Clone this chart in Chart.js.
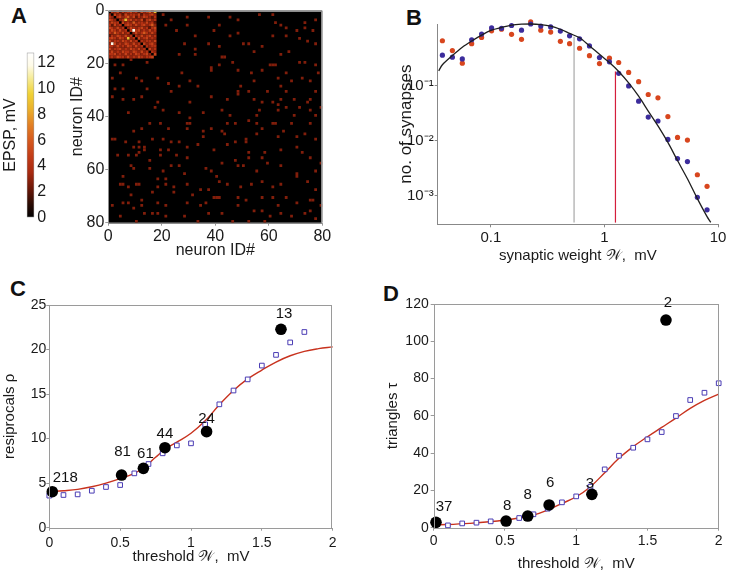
<!DOCTYPE html>
<html>
<head>
<meta charset="utf-8">
<script src="https://cdn.jsdelivr.net/npm/chart.js@4.4.1/dist/chart.umd.min.js"></script>
<style>
  body { margin: 0; background: #fff; width: 732px; height: 575px; position: relative; overflow: hidden;
         font-family: "Liberation Sans", Arial, Helvetica, sans-serif; }
  canvas { position: absolute; }
  .letter { position: absolute; font-weight: bold; font-size: 22px; line-height: 22px; color: #111; }
</style>
</head>
<body>
<div class="letter" style="left:11px;top:4.5px">A</div>
<div class="letter" style="left:406px;top:7px">B</div>
<div class="letter" style="left:10px;top:277.5px">C</div>
<div class="letter" style="left:383px;top:282.5px">D</div>

<canvas id="cbar" width="60" height="190" style="left:0;top:40px"></canvas>
<canvas id="matrix" width="275" height="265" style="left:60px;top:0"></canvas>
<canvas id="weights" width="345" height="265" style="left:385px;top:5px"></canvas>
<canvas id="recip" width="350" height="285" style="left:0;top:290px"></canvas>
<canvas id="triang" width="360" height="285" style="left:370px;top:290px"></canvas>

<script>
// ---------- A: EPSP matrix (mV), 80 x 80 neurons ----------
// clustered block, neurons 0..17 (row = presynaptic, col = postsynaptic)
const blockEpsp = [
  [0,4,3,5,2,4,3,4,5,3,4,2,5,3,4,6,3,9],
  [3,0,5,3,4,2,5,3,4,4,3,5,2,4,3,4,5,3],
  [4,3,0,4,5,3,4,6,3,5,2,4,3,5,4,3,2,4],
  [5,4,3,0,3,4,9,4,5,3,4,3,5,2,4,5,3,4],
  [3,5,4,4,0,5,3,4,3,6,3,4,4,3,5,3,4,2],
  [4,2,5,3,4,0,4,5,4,3,5,3,4,5,3,4,6,3],
  [5,4,3,5,3,4,0,3,5,4,3,4,5,3,4,2,4,5],
  [3,5,4,3,5,3,4,0,4,12,4,5,3,4,3,5,3,4],
  [4,3,6,4,3,5,3,4,0,3,5,3,4,6,4,3,5,3],
  [2,4,3,5,4,3,5,3,4,0,4,3,5,3,4,5,3,4],
  [4,5,4,3,5,4,3,9,3,4,0,5,3,4,5,3,4,3],
  [5,3,4,4,3,5,4,3,5,3,4,0,4,3,4,4,3,5],
  [3,12,5,3,4,3,5,4,3,5,3,4,0,5,3,4,5,3],
  [4,4,3,5,3,4,3,5,4,3,5,3,4,0,4,3,4,4],
  [5,3,4,4,5,3,4,3,5,4,3,5,3,4,0,5,3,4],
  [3,5,3,4,3,5,4,4,3,5,4,3,5,3,4,0,4,3],
  [4,4,5,3,4,3,5,3,4,3,5,4,3,4,5,3,0,5],
  [3,4,3,5,4,4,3,5,3,4,3,5,4,3,4,4,5,0]
];
// sparse connections elsewhere: [row, col]
const sparseLinks = [
  [1,20],[3,23],[2,29],[5,29],[9,32],[2,37],[7,25],[12,28],[16,26],[14,32],[16,32],[12,37],[21,38],[22,38],[7,39],[5,21],
  [20,2],[20,5],[18,8],[19,14],[25,1],[23,4],[25,10],[26,12],[25,18],[27,22],[23,27],[26,30],[30,23],[28,26],[29,2],[29,5],
  [29,14],[32,1],[32,12],[33,9],[34,18],[37,20],[36,17],[38,26],[34,30],[28,33],[32,38],[38,35],[38,7],[33,5],
  [2,45],[3,48],[8,48],[9,45],[1,56],[1,61],[4,62],[5,64],[6,66],[7,70],[4,73],[6,73],[3,77],[7,76],[9,61],[9,66],
  [10,71],[11,74],[12,77],[13,41],[17,42],[17,43],[12,50],[12,52],[15,54],[13,57],[20,60],[20,61],[20,62],[16,64],[15,67],
  [19,71],[19,73],[20,77],[23,78],[20,41],[19,46],[22,48],[23,53],[22,57],[25,63],[23,66],[26,68],[25,72],[26,75],[26,54],
  [28,49],[30,48],[33,44],[31,48],[30,52],[30,59],[28,64],[30,66],[30,77],[33,54],[34,57],[34,61],[35,63],[33,64],[33,69],
  [34,74],[33,75],[37,56],[37,63],[36,66],[36,71],[37,75],[36,79],[37,42],[39,45],[39,55],[39,69],[39,77],[5,41],
  [48,1],[48,2],[45,9],[44,12],[42,15],[42,19],[42,29],[42,30],[40,30],[44,29],[45,35],[44,38],[44,22],[48,16],[48,20],
  [49,23],[49,26],[49,6],[49,11],[51,9],[51,11],[53,11],[51,13],[52,13],[52,19],[52,22],[51,29],[50,33],[47,35],[52,39],
  [54,3],[54,7],[54,10],[56,15],[54,19],[54,25],[55,29],[58,23],[58,26],[58,8],[59,9],[59,15],[60,20],[61,28],[59,36],
  [60,38],[62,5],[63,18],[63,21],[65,4],[65,5],[66,7],[65,10],[65,11],[66,18],[65,21],[66,24],[65,29],[67,34],[67,37],
  [69,8],[68,16],[68,24],[69,31],[70,39],[73,1],[72,5],[72,7],[71,12],[73,12],[72,18],[73,21],[72,29],[73,34],[72,36],
  [74,9],[76,13],[76,16],[76,18],[77,4],[79,10],[77,21],[79,33],[77,28],[76,37],
  [45,42],[46,43],[42,44],[42,47],[41,52],[42,55],[42,61],[42,62],[45,65],[42,68],[42,75],[48,77],[46,73],[47,70],
  [48,51],[49,51],[46,55],[44,57],[47,63],[49,47],[50,44],[53,52],[55,52],[55,57],[53,58],[52,64],[51,70],[53,72],
  [55,75],[57,42],[56,47],[58,50],[58,48],[60,55],[57,59],[58,64],[61,70],[62,70],[60,77],[57,79],[62,40],[64,41],
  [65,44],[66,49],[65,53],[64,57],[66,61],[65,64],[64,74],[67,77],[70,40],[70,41],[70,48],[71,51],[70,57],[70,61],
  [70,66],[72,70],[71,75],[71,76],[76,42],[73,48],[75,54],[75,57],[73,63],[76,64],[77,68],[76,73],[75,75],[79,46],
  [79,52],[77,60],[78,77],[73,79],[79,58]
];
const sparseEpsp = 2.7;
const matrixTicks = [0, 20, 40, 60, 80];
const cbarTicks = [0, 2, 4, 6, 8, 10, 12];
const cbarMax = 12.8;

// ---------- B: synaptic weight distribution ----------
const weightBins = [0.0374, 0.0458, 0.056, 0.0677, 0.0828, 0.1014, 0.124, 0.152, 0.186, 0.224, 0.275, 0.336, 0.409, 0.493,
                    0.604, 0.738, 0.904, 1.106, 1.335, 1.634, 2.0, 2.43, 2.96, 3.62, 4.40, 5.38, 6.58, 8.01];
const countsModel = [0.357, 0.329, 0.306, 0.683, 0.865, 1.12, 1.10, 1.24, 1.02, 1.32, 1.21, 1.17, 0.98, 0.805,
                     0.71, 0.526, 0.324, 0.271, 0.167, 0.0988, 0.0522, 0.0268, 0.0227, 0.0105, 0.0047, 0.00415, 0.00093, 0.00055];
const countsData = [0.655, 0.433, 0.256, 0.578, 0.753, 0.99, 1.06, 0.855, 0.694, 1.44, 1.02, 0.94, 0.638, 0.578,
                    0.478, 0.351, 0.252, 0.315, 0.263, 0.174, 0.118, 0.0689, 0.06, 0.0273, 0.0114, 0.0102, 0.00239, 0.00147];
const fitX = [0.0347, 0.0374, 0.0458, 0.056, 0.0677, 0.0828, 0.1014, 0.124, 0.152, 0.186, 0.224, 0.275, 0.336, 0.409, 0.493,
              0.604, 0.738, 0.904, 1.106, 1.335, 1.634, 2.0, 2.43, 2.96, 3.62, 4.40, 5.38, 6.58, 8.01, 8.63];
const fitY = [0.186, 0.239, 0.352, 0.498, 0.647, 0.83, 1.02, 1.14, 1.26, 1.31, 1.32, 1.29, 1.21, 1.06, 0.89,
              0.74, 0.526, 0.372, 0.263, 0.181, 0.112, 0.0641, 0.0344, 0.0185, 0.00927, 0.00433, 0.00202, 0.00088, 0.000413, 0.000324];
const thresholdLow = 0.54, thresholdLowTop = 0.77;
const thresholdHigh = 1.25, thresholdHighTop = 0.181;
const weightXMin = 0.034, weightXMax = 10, countYMin = 3.22e-4, countYMax = 1.32;
const weightXTicks = [0.1, 1, 10];
const weightXLabels = ['0.1', '1', '10'];
const countYTicks = [0.001, 0.01, 0.1];
const countYLabels = ['10\u207B\u00B3', '10\u207B\u00B2', '10\u207B\u00B9'];

// ---------- C: reciprocal connections vs threshold ----------
const thrX = [0, 0.5, 1, 1.5, 2];
const thrLabels = ['0', '0.5', '1', '1.5', '2'];
const recipExpX = [0.021, 0.51, 0.664, 0.816, 1.11, 1.635];
const recipExpY = [4.04, 5.91, 6.66, 8.98, 10.78, 22.27];
const recipCounts = ['218', '81', '61', '44', '24', '13'];
const recipSimX = [0, 0.1, 0.2, 0.3, 0.4, 0.5, 0.6, 0.7, 0.8, 0.9, 1.0, 1.1, 1.2, 1.3, 1.4, 1.5, 1.6, 1.7, 1.8];
const recipSimY = [3.6, 3.67, 3.74, 4.15, 4.57, 4.79, 6.1, 7.15, 8.35, 9.24, 9.47, 11.6, 13.85, 15.4, 16.65, 18.2, 19.4, 20.8, 21.97];
const recipFitX = [0, 0.1, 0.2, 0.3, 0.4, 0.5, 0.6, 0.664, 0.75, 0.816, 0.9, 1.0, 1.1, 1.2, 1.3, 1.4, 1.5, 1.6, 1.7, 1.8, 1.9, 2.0];
const recipFitY = [4.05, 4.15, 4.3, 4.6, 5.0, 5.5, 6.1, 6.7, 7.9, 8.8, 9.6, 10.6, 12.0, 13.8, 15.4, 16.7, 17.7, 18.6, 19.3, 19.8, 20.1, 20.3];
const recipYTicks = [0, 5, 10, 15, 20, 25];

// ---------- D: triangles vs threshold ----------
const triExpX = [0.016, 0.508, 0.66, 0.81, 1.11, 1.63];
const triExpY = [2.86, 3.58, 6.26, 12.2, 17.9, 111.4];
const triCounts = ['37', '8', '8', '6', '3', '2'];
const triSimX = [0.1, 0.2, 0.3, 0.4, 0.5, 0.6, 0.7, 0.8, 0.9, 1.0, 1.1, 1.2, 1.3, 1.4, 1.5, 1.6, 1.7, 1.8, 1.9, 2.0];
const triSimY = [1.25, 2.3, 2.7, 3.4, 4.3, 5.2, 7.2, 10.2, 13.6, 16.8, 22, 31.3, 38.6, 42.9, 47.4, 51.3, 59.9, 68.5, 72.4, 77.5];
const triFitX = [0, 0.25, 0.5, 0.7, 0.8, 0.9, 1.0, 1.1, 1.2, 1.3, 1.4, 1.5, 1.6, 1.7, 1.8, 1.9, 2.0];
const triFitY = [1.4, 2.3, 4.1, 6.8, 9.5, 13, 16.6, 22, 29.5, 37.2, 43.5, 48.8, 53.8, 58.8, 64.0, 68.3, 71.7];
const triYTicks = [0, 20, 40, 60, 80, 100, 120];

// ---------- styling ----------
const FONT = '"Liberation Sans", Arial, Helvetica, sans-serif';
Chart.defaults.font.family = FONT;
Chart.defaults.color = '#1a1a1a';
Chart.defaults.animation = false;
Chart.defaults.events = [];
Chart.defaults.plugins.legend.display = false;
Chart.defaults.plugins.tooltip.enabled = false;

// "hot"-like colour map used by the EPSP matrix and its colour bar
const cmapStops = [[0, '#000000'], [1.1, '#2e0c04'], [2.3, '#6e1808'], [3.5, '#a82a10'], [4.75, '#c23c18'],
                   [6, '#d65a1e'], [7.2, '#e28024'], [8.4, '#eab02c'], [9.6, '#f0d236'], [10.85, '#f6ec9a'],
                   [11.8, '#fffbe8'], [12.8, '#ffffff']];

function hexRgb(h) { return [1, 3, 5].map(i => parseInt(h.substr(i, 2), 16)); }

function cmap(v) {
  for (let i = 1; i < cmapStops.length; i++) {
    const [v1, c1] = cmapStops[i];
    if (v <= v1) {
      const [v0, c0] = cmapStops[i - 1];
      const t = (v - v0) / (v1 - v0);
      const a = hexRgb(c0), b = hexRgb(c1);
      return 'rgb(' + a.map((x, k) => Math.round(x + (b[k] - x) * t)).join(',') + ')';
    }
  }
  return '#ffffff';
}

const fixW = w => s => { s.width = w; };
const fixH = h => s => { s.height = h; };
const fixedTicks = vals => s => { s.ticks = vals.map(v => ({ value: v })); };

// black background for the matrix + thin frame round a plot
const plotArea = {
  id: 'plotArea',
  beforeDatasetsDraw(chart, args, opts) {
    if (!opts.fill) return;
    const { ctx, chartArea: a } = chart;
    ctx.save();
    ctx.fillStyle = opts.fill;
    ctx.fillRect(a.left, a.top, a.width, a.height);
    ctx.restore();
  },
  afterDatasetsDraw(chart, args, opts) {
    if (!opts.frame) return;
    const { ctx, chartArea: a } = chart;
    ctx.save();
    ctx.strokeStyle = opts.frame;
    ctx.lineWidth = 1;
    ctx.strokeRect(Math.round(a.left) + 0.5, Math.round(a.top) + 0.5, Math.round(a.width) - 1, Math.round(a.height));
    ctx.restore();
  }
};

// counts written above the experimental points (dataset 0)
const pointTags = {
  id: 'pointTags',
  afterDatasetsDraw(chart, args, opts) {
    if (!opts.labels) return;
    const { ctx } = chart;
    const meta = chart.getDatasetMeta(0);
    ctx.save();
    ctx.font = '15px ' + FONT;
    ctx.fillStyle = '#111';
    ctx.textAlign = 'center';
    ctx.textBaseline = 'middle';
    meta.data.forEach((pt, i) => {
      const [dx, dy] = opts.nudge[i];
      ctx.fillText(opts.labels[i], pt.x + dx, pt.y + dy);
    });
    ctx.restore();
  }
};

Chart.register(plotArea, pointTags);

const axisGrey = '#9a9a9a';
const tickGrid = { display: true, drawOnChartArea: false, tickLength: 3, color: axisGrey };

// ---------- colour bar ----------
function cbarGradient(chart) {
  const ys = chart.scales.y;
  if (!ys || !chart.chartArea) return '#000';
  const y0 = ys.getPixelForValue(0), y1 = ys.getPixelForValue(cbarMax);
  if (!isFinite(y0) || !isFinite(y1) || y0 === y1) return '#000';
  const g = chart.ctx.createLinearGradient(0, y0, 0, y1);
  cmapStops.forEach(([v, c]) => g.addColorStop(v / cbarMax, c));
  return g;
}

new Chart(document.getElementById('cbar'), {
  type: 'bar',
  data: {
    labels: [''],
    datasets: [{
      data: [[0, cbarMax]],
      backgroundColor: ctx => cbarGradient(ctx.chart),
      borderColor: axisGrey, borderWidth: 1, borderSkipped: false,
      barPercentage: 1, categoryPercentage: 1
    }]
  },
  options: {
    responsive: false,
    layout: { padding: { top: 6.7, bottom: 8.3, left: 0, right: 0 } },
    scales: {
      x: { display: false },
      y: {
        position: 'right', min: 0, max: cbarMax, afterFit: fixW(25.7), afterBuildTicks: fixedTicks(cbarTicks),
        ticks: { padding: 3, font: { size: 16 } }, grid: { display: false, drawTicks: false }, border: { display: false }
      },
      y2: {
        position: 'left', min: 0, max: cbarMax, afterFit: fixW(26.7),
        ticks: { display: false }, grid: { display: false, drawTicks: false }, border: { display: false },
        title: { display: true, text: 'EPSP, mV', font: { size: 16 }, padding: { top: 1.4, bottom: 0 } }
      }
    }
  }
});

// ---------- A: matrix ----------
const matrixCells = [];
blockEpsp.forEach((row, r) => row.forEach((v, c) => {
  if (v > 0) matrixCells.push({ x: c + 0.5, y: r + 0.5, v });
}));
sparseLinks.forEach(([r, c]) => matrixCells.push({ x: c + 0.5, y: r + 0.5, v: sparseEpsp }));

function cellRadius(chart) {
  const xs = chart.scales.x;
  const d = xs ? Math.abs(xs.getPixelForValue(1) - xs.getPixelForValue(0)) : NaN;
  return isFinite(d) && d > 0 ? d / Math.SQRT2 * 1.04 : 1.9;
}

new Chart(document.getElementById('matrix'), {
  type: 'scatter',
  data: {
    datasets: [{
      data: matrixCells,
      pointStyle: 'rect',
      pointRadius: ctx => cellRadius(ctx.chart),
      backgroundColor: ctx => (ctx.raw ? cmap(ctx.raw.v) : '#000'),
      borderWidth: 0
    }]
  },
  options: {
    responsive: false,
    layout: { padding: { top: 7.3, right: 12.7, bottom: 0, left: 0 } },
    plugins: { plotArea: { fill: '#000', frame: '#8c8c8c' } },
    scales: {
      x: {
        min: 0, max: 80, afterFit: fixH(42.3), afterBuildTicks: fixedTicks(matrixTicks),
        ticks: { padding: 1, font: { size: 16 } }, grid: tickGrid, border: { display: false },
        title: { display: true, text: 'neuron ID#', font: { size: 16 }, padding: { top: 0, bottom: 4.4 } }
      },
      y: {
        min: 0, max: 80, reverse: true, afterFit: fixW(48.3), afterBuildTicks: fixedTicks(matrixTicks),
        ticks: { padding: 1, font: { size: 16 } }, grid: tickGrid, border: { display: false },
        title: { display: true, text: 'neuron ID#', font: { size: 16 }, padding: { top: 8.4, bottom: 0 } }
      }
    }
  }
});

// ---------- B: weight distribution ----------
const toXY = (xs, ys) => xs.map((x, i) => ({ x, y: ys[i] }));

new Chart(document.getElementById('weights'), {
  type: 'scatter',
  data: {
    datasets: [
      { data: toXY(fitX, fitY), showLine: true, borderColor: '#1e1e1e', borderWidth: 1.3, pointRadius: 0, tension: 0.3 },
      { data: [{ x: thresholdLow, y: countYMin }, { x: thresholdLow, y: thresholdLowTop }], showLine: true,
        borderColor: '#a8a8a8', borderWidth: 1.2, pointRadius: 0 },
      { data: [{ x: thresholdHigh, y: countYMin }, { x: thresholdHigh, y: thresholdHighTop }], showLine: true,
        borderColor: '#d41e3c', borderWidth: 1.2, pointRadius: 0 },
      { data: toXY(weightBins, countsModel), pointRadius: 2.6, backgroundColor: '#3c2c9c', borderWidth: 0 },
      { data: toXY(weightBins, countsData), pointRadius: 2.6, backgroundColor: '#d8461e', borderWidth: 0 }
    ]
  },
  options: {
    responsive: false,
    clip: false,
    layout: { padding: { top: 19, right: 12, bottom: 0, left: 0 } },
    scales: {
      x: {
        type: 'logarithmic', min: weightXMin, max: weightXMax, afterFit: fixH(45.7),
        afterBuildTicks: fixedTicks(weightXTicks),
        ticks: { padding: 2, font: { size: 15 }, callback: (v, i) => weightXLabels[i] },
        grid: { ...tickGrid, color: '#888' }, border: { color: '#888' },
        title: { display: true, text: 'synaptic weight \uD835\uDCB2,  mV', font: { size: 15 }, padding: { top: 0, bottom: 5 } }
      },
      y: {
        type: 'logarithmic', min: countYMin, max: countYMax, afterFit: fixW(52.7),
        afterBuildTicks: fixedTicks(countYTicks),
        ticks: { padding: 1, font: { size: 15 }, callback: (v, i) => countYLabels[i] },
        grid: { ...tickGrid, color: '#888' }, border: { color: '#888' },
        title: { display: true, text: 'no. of synapses', font: { size: 17 }, padding: { top: 10.8, bottom: 0 } }
      }
    }
  }
});

// ---------- C & D: motif counts vs threshold ----------
function motifChart(id, cfg) {
  return new Chart(document.getElementById(id), {
    type: 'scatter',
    data: {
      datasets: [
        { data: toXY(cfg.expX, cfg.expY), pointRadius: 5.8, backgroundColor: '#000', borderWidth: 0 },
        { data: toXY(cfg.simX, cfg.simY), pointStyle: 'rect', pointRadius: 3.3, backgroundColor: '#fff',
          borderColor: '#4a3cb4', borderWidth: 1 },
        { data: toXY(cfg.fitX, cfg.fitY), showLine: true, borderColor: '#c8321e', borderWidth: 1.4,
          pointRadius: 0, tension: 0.4 }
      ]
    },
    options: {
      responsive: false,
      clip: false,
      layout: { padding: cfg.pad },
      plugins: {
        plotArea: { frame: axisGrey },
        pointTags: { labels: cfg.tags, nudge: cfg.nudge }
      },
      scales: {
        x: {
          min: 0, max: 2, afterFit: fixH(47.3), afterBuildTicks: fixedTicks(thrX),
          ticks: { padding: cfg.xPad, font: { size: 14 }, callback: (v, i) => thrLabels[i] },
          grid: tickGrid, border: { display: false },
          title: { display: true, text: 'threshold \uD835\uDCB2,  mV', font: { size: 15 }, padding: { top: 0, bottom: cfg.xTitlePad } }
        },
        y: {
          min: 0, max: cfg.yMax, afterFit: fixW(cfg.yWidth), afterBuildTicks: fixedTicks(cfg.yTicks),
          ticks: { padding: cfg.yPad, font: { size: 14 } },
          grid: tickGrid, border: { display: false },
          title: { display: true, text: cfg.yTitle, font: { size: 15 }, padding: { top: cfg.yTitlePad, bottom: 0 } }
        }
      }
    }
  });
}

motifChart('recip', {
  expX: recipExpX, expY: recipExpY, simX: recipSimX, simY: recipSimY, fitX: recipFitX, fitY: recipFitY,
  tags: recipCounts, nudge: [[13, -14], [1, -23], [2, -15], [0, -14], [0, -13], [3, -15]],
  yMax: 25, yTicks: recipYTicks, yTitle: 'resiprocals \u03C1',
  pad: { top: 15, right: 17.3, bottom: 0, left: 0 }, yWidth: 49.3, yPad: 0, yTitlePad: 1, xPad: 4, xTitlePad: 9
});

motifChart('triang', {
  expX: triExpX, expY: triExpY, simX: triSimX, simY: triSimY, fitX: triFitX, fitY: triFitY,
  tags: triCounts, nudge: [[8, -16], [1, -15], [0, -21], [1, -22], [-2, -10], [2, -17]],
  yMax: 120, yTicks: triYTicks, yTitle: 'triangles \u03C4',
  pad: { top: 14, right: 11.3, bottom: 0, left: 0 }, yWidth: 63.7, yPad: 2, yTitlePad: 14, xPad: 2, xTitlePad: 2
});
</script>
</body>
</html>
